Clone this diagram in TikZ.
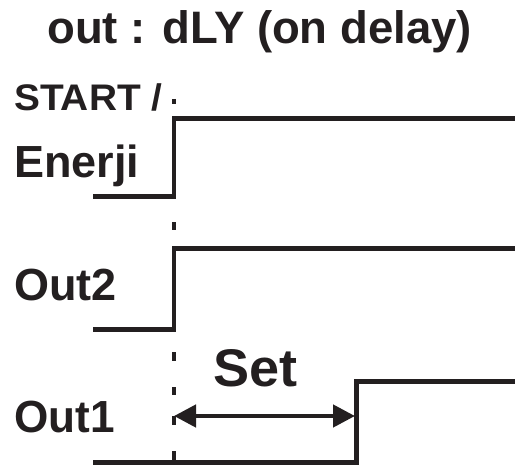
\documentclass[tikz,border=0pt]{standalone}
\usepackage{fontspec}
\setmainfont{Liberation Sans}
\usetikzlibrary{arrows.meta}
\definecolor{ink}{RGB}{35,31,32}
\newcommand{\wlbl}[3]{\scalebox{#2}[1]{\fontsize{#1}{#1}\selectfont\bfseries #3}}
\begin{document}
\begin{tikzpicture}[x=1pt,y=-1pt,
  wave/.style={draw=ink,line width=4.5pt,line join=miter,line cap=butt},
  tick/.style={draw=ink,line width=4pt},
  lbl/.style={anchor=base west,inner sep=0pt,text=ink},
  span/.style={draw=ink,line width=4.5pt,{Triangle[length=22pt,width=22pt]}-{Triangle[length=22pt,width=22pt]}}]
\useasboundingbox (0,0) rectangle (522,468);
% texts
\node[lbl] (title) at (47,44) {\wlbl{45.5}{1.0}{out : dLY (on delay)}};
\node[lbl] (start) at (14,111) {\wlbl{37}{1.05}{START /}};
\node[lbl] (enerji) at (14,178) {\wlbl{45}{1.0}{Enerji}};
\node[lbl] (out2) at (14,300) {\wlbl{45}{1.0}{Out2}};
\node[lbl] (out1) at (14,432) {\wlbl{45}{0.98}{Out1}};
\node[lbl] (set) at (213,386) {\wlbl{53}{1.02}{Set}};
% waveform corner points
\coordinate (a0) at (93,196.5);  \coordinate (a1) at (174,196.5);
\coordinate (a2) at (174,118.5); \coordinate (a3) at (515,118.5);
\coordinate (b0) at (93,329.5);  \coordinate (b1) at (174,329.5);
\coordinate (b2) at (174,248.3); \coordinate (b3) at (515,248.3);
\coordinate (c0) at (93,462.5);  \coordinate (c1) at (356.5,462.5);
\coordinate (c2) at (356.5,381.7); \coordinate (c3) at (515,381.7);
\draw[wave] (a0) -- (a1) -- (a2) -- (a3);
\draw[wave] (b0) -- (b1) -- (b2) -- (b3);
\draw[wave] (c0) -- (c1) -- (c2) -- (c3);
% dashed start marker
\foreach \ya/\yb in {99/104,222/230,352/361,387/395,416/425,451/460}
  \draw[tick] (174,\ya) -- (174,\yb);
% delay arrow
\coordinate (setL) at (174,416);
\coordinate (setR) at (355,416);
\draw[span] (setL) -- (setR);
\end{tikzpicture}
\end{document}
